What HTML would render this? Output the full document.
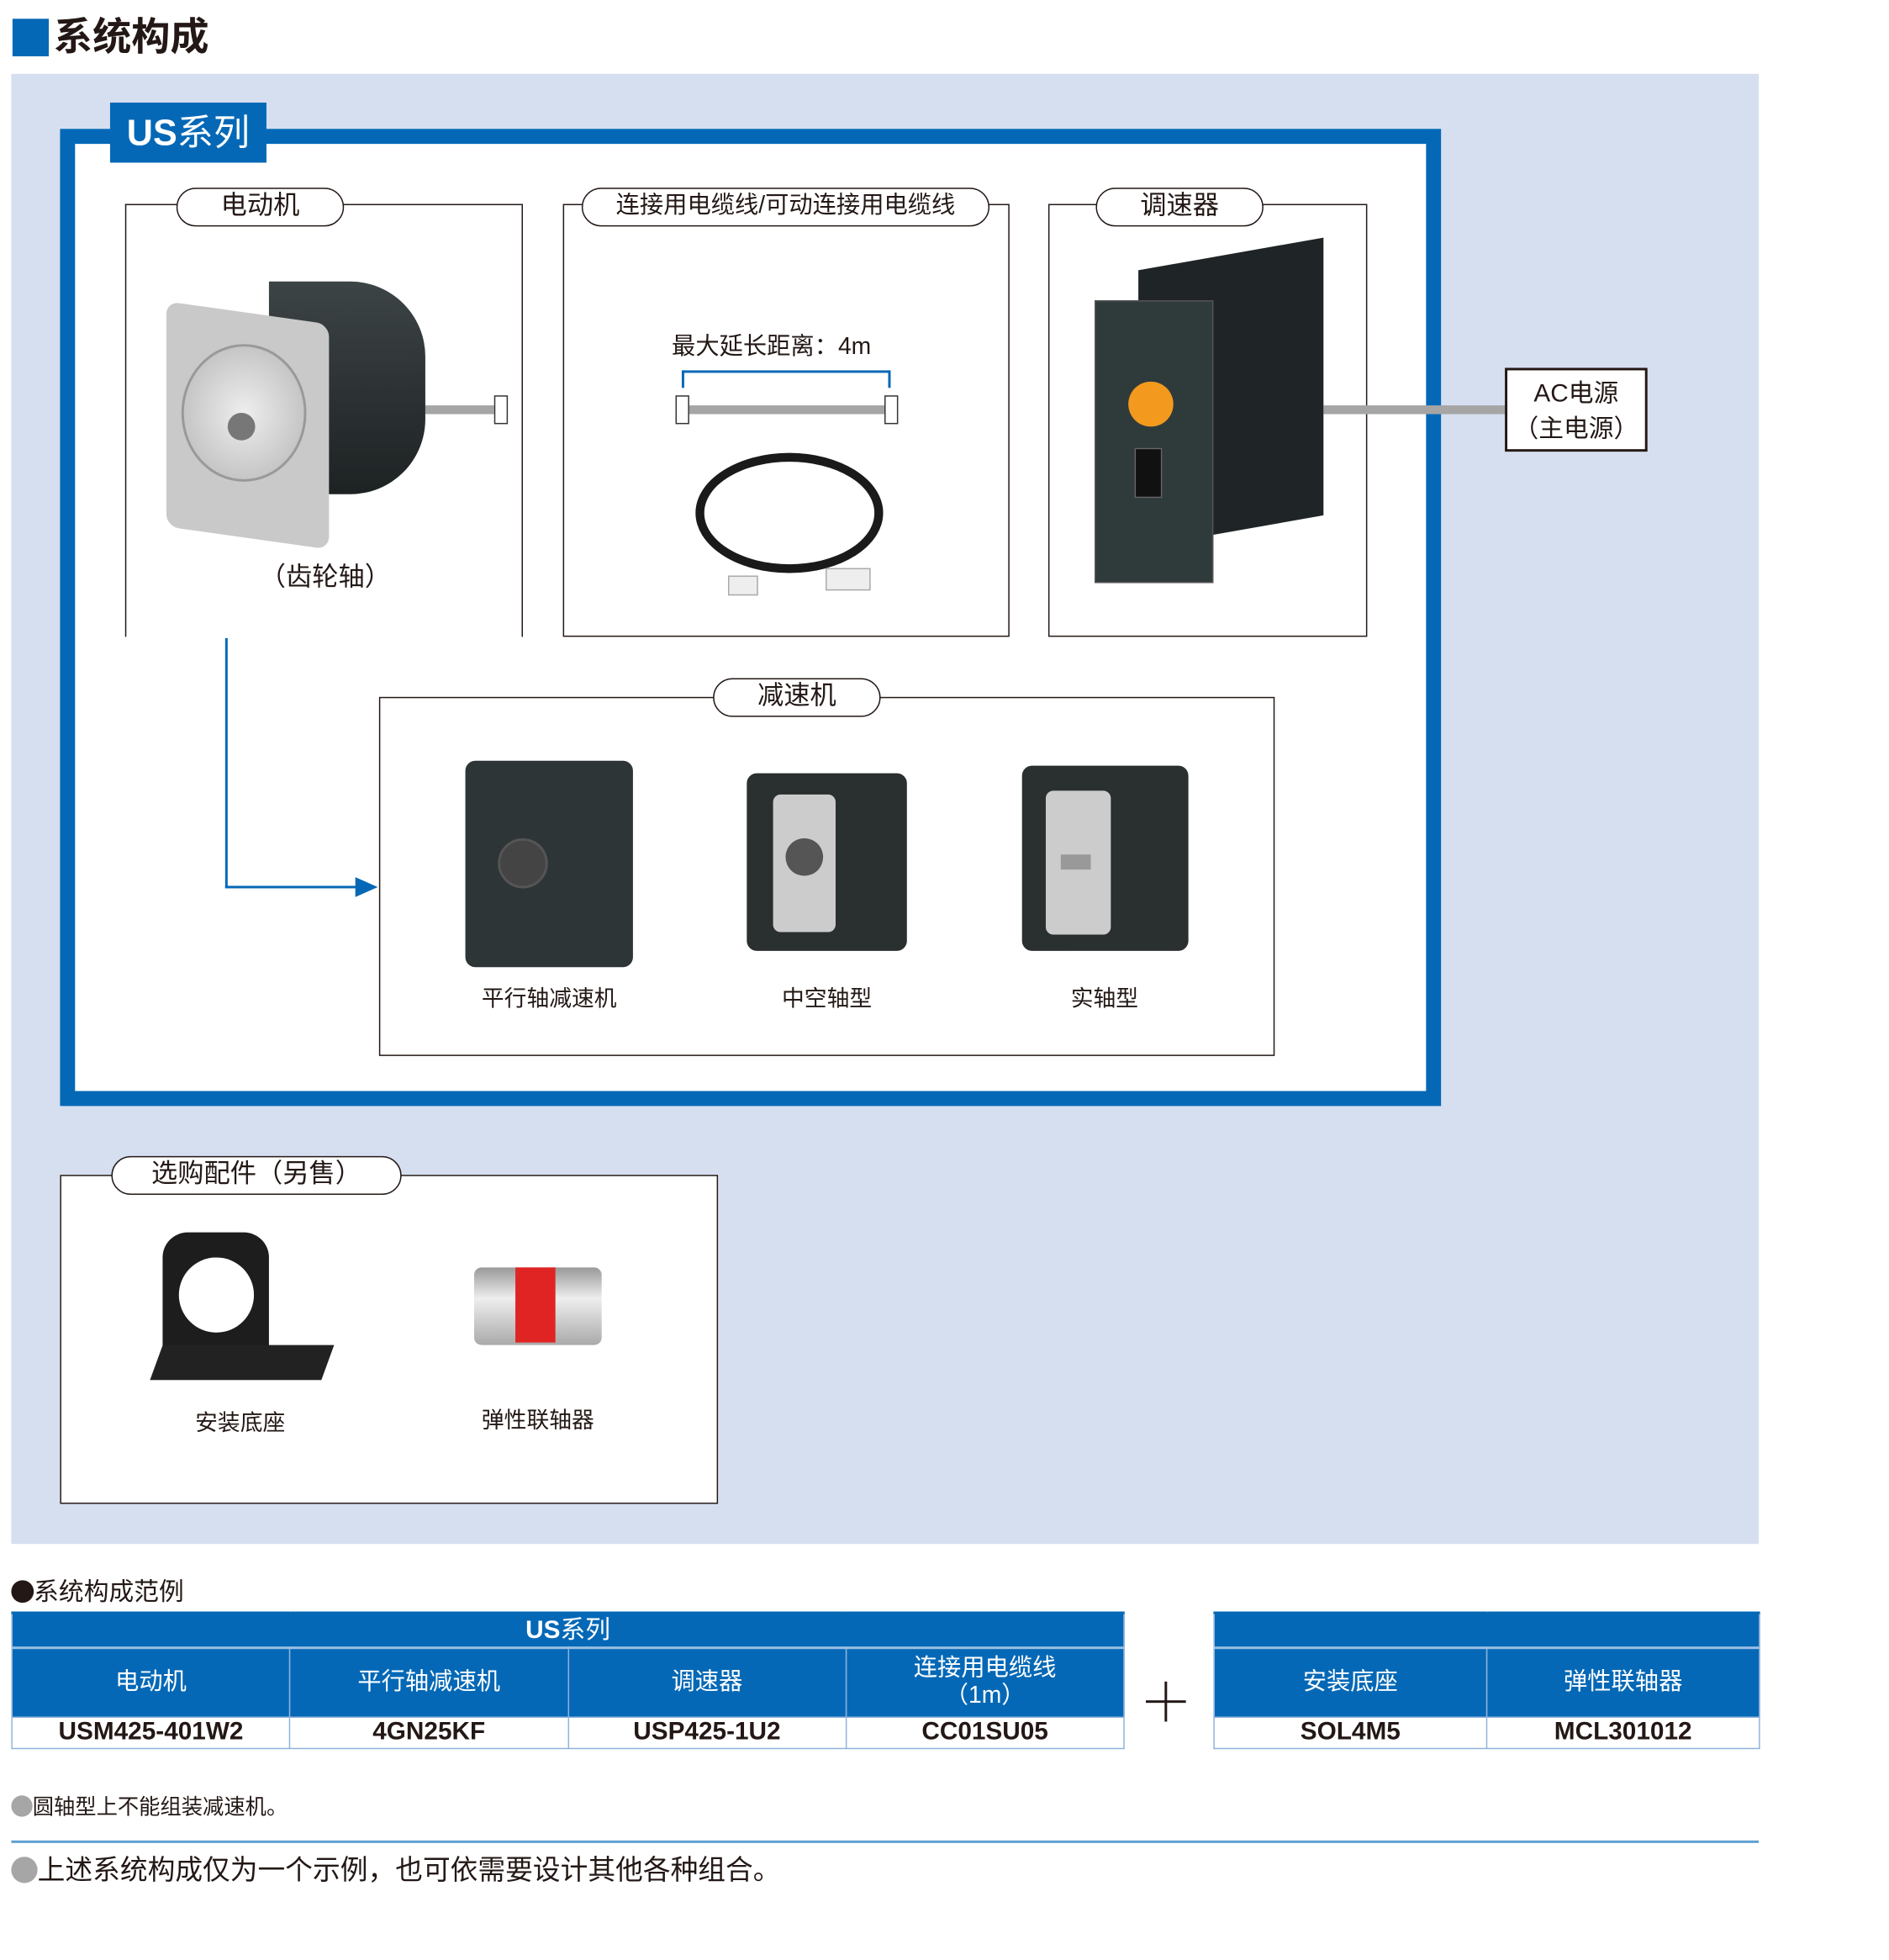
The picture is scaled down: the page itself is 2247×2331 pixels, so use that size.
<!DOCTYPE html>
<html><head><meta charset="utf-8"><style>
*{margin:0;padding:0;box-sizing:border-box}
html,body{width:2247px;height:2331px;overflow:hidden;background:#fff}
#s{position:absolute;left:0;top:0;width:1510px;height:1566px;transform:scale(1.488);transform-origin:0 0;font-family:"Liberation Sans","Noto Sans CJK SC",sans-serif;color:#231815}
.a{position:absolute}
.box{position:absolute;border:1.5px solid #231815;background:#fff}
.pill{position:absolute;border:1.5px solid #231815;border-radius:16px;background:#fff;text-align:center;font-size:21px;line-height:28px}
.lbl{position:absolute;font-size:18px;transform:translateX(-50%);white-space:nowrap}
.blue{background:#0468b6}
td{border:1px solid #8fb3dc;text-align:center;padding:0;line-height:1.15}
</style></head><body><div id="s">
<div class="a blue" style="left:10px;top:15px;width:29px;height:30px"></div>
<div class="a" style="left:43px;top:8px;font-size:31px;font-weight:bold;line-height:44px">系统构成</div>
<div class="a" style="left:9px;top:59px;width:1397px;height:1175px;background:#d6dff0"></div>
<div class="a" style="left:48px;top:103px;width:1104px;height:781px;border:12px solid #0468b6;background:#fff"></div>
<div class="a blue" style="left:88px;top:82px;width:125px;height:48px;color:#fff;font-size:29px;font-weight:bold;line-height:50px;text-align:center">US<span style="font-weight:normal">系列</span></div>

<!-- motor -->
<div class="a" style="left:100px;top:163px;width:318px;height:346px;border:1.5px solid #231815;border-bottom:none"></div>
<div class="pill" style="left:141px;top:150px;width:134px;height:31px">电动机</div>
<div class="a" style="left:340px;top:324px;width:56px;height:7px;background:#a5a5a5"></div>
<div class="a" style="left:395px;top:316px;width:11px;height:23px;border:1.5px solid #333;background:#fff"></div>
<div class="a" style="left:215px;top:225px;width:125px;height:170px;border-radius:0 60px 60px 0;background:linear-gradient(#3d4446,#1d2223)"></div>
<div class="a" style="left:133px;top:250px;width:130px;height:180px;background:#c9c9c9;border-radius:10px;transform:skewY(8deg)"></div>
<div class="a" style="left:145px;top:275px;width:100px;height:110px;border-radius:50%;background:radial-gradient(#eee,#b5b5b5);border:2px solid #999"></div>
<div class="a" style="left:182px;top:330px;width:22px;height:22px;border-radius:50%;background:#777"></div>
<div class="lbl" style="left:260px;top:445px;font-size:21px">（齿轮轴）</div>

<!-- cable -->
<div class="box" style="left:450px;top:163px;width:357px;height:346px"></div>
<div class="pill" style="left:465px;top:150px;width:326px;height:31px;font-size:19px">连接用电缆线/可动连接用电缆线</div>
<div class="a" style="left:537px;top:262px;font-size:19px">最大延长距离：4m</div>
<div class="a" style="left:545px;top:296px;width:167px;height:14px;border:2px solid #0468b6;border-bottom:none"></div>
<div class="a" style="left:548px;top:324px;width:162px;height:7px;background:#a5a5a5"></div>
<div class="a" style="left:540px;top:316px;width:11px;height:23px;border:1.5px solid #333;background:#fff"></div>
<div class="a" style="left:707px;top:316px;width:11px;height:23px;border:1.5px solid #333;background:#fff"></div>
<div class="a" style="left:556px;top:362px;width:150px;height:96px;border:7px solid #1a1a1a;border-radius:50%"></div>
<div class="a" style="left:582px;top:460px;width:24px;height:16px;background:#eee;border:1px solid #aaa"></div>
<div class="a" style="left:660px;top:454px;width:36px;height:18px;background:#eee;border:1px solid #aaa"></div>

<!-- speed -->
<div class="box" style="left:838px;top:163px;width:255px;height:346px"></div>
<div class="pill" style="left:876px;top:150px;width:134px;height:31px">调速器</div>
<div class="a" style="left:1058px;top:324px;width:147px;height:7px;background:#a5a5a5"></div>
<div class="a" style="left:910px;top:216px;width:148px;height:222px;background:#1f2526;transform:skewY(-10deg);transform-origin:0 0"></div>
<div class="a" style="left:875px;top:240px;width:95px;height:226px;background:#2f3a3b;border:1px solid #555"></div>
<div class="a" style="left:902px;top:305px;width:36px;height:36px;border-radius:50%;background:#f39a1e"></div>
<div class="a" style="left:907px;top:358px;width:22px;height:40px;background:#111;border:1px solid #666"></div>
<div class="box" style="left:1203px;top:294px;width:114px;height:67px;border-width:2px;text-align:center;font-size:20px;line-height:28px;padding-top:5px">AC电源<br>（主电源）</div>

<!-- arrow -->
<div class="a" style="left:180px;top:510px;width:2px;height:200px;background:#0468b6"></div>
<div class="a" style="left:180px;top:708px;width:106px;height:2px;background:#0468b6"></div>
<svg class="a" style="left:284px;top:701px" width="18" height="16"><polygon points="0,0 18,8 0,16" fill="#0468b6"/></svg>

<!-- reducer -->
<div class="box" style="left:303px;top:557px;width:716px;height:287px"></div>
<div class="pill" style="left:570px;top:542px;width:134px;height:31px">减速机</div>
<div class="a" style="left:372px;top:608px;width:134px;height:165px;background:#2e3537;border-radius:8px"></div>
<div class="a" style="left:398px;top:670px;width:40px;height:40px;border-radius:50%;background:#444;border:2px solid #555"></div>
<div class="a" style="left:597px;top:618px;width:128px;height:142px;background:#2a2f30;border-radius:8px"></div>
<div class="a" style="left:618px;top:635px;width:50px;height:110px;background:#ccc;border-radius:6px"></div>
<div class="a" style="left:628px;top:670px;width:30px;height:30px;border-radius:50%;background:#555"></div>
<div class="a" style="left:817px;top:612px;width:133px;height:148px;background:#2a2f30;border-radius:8px"></div>
<div class="a" style="left:836px;top:632px;width:52px;height:115px;background:#ccc;border-radius:6px"></div>
<div class="a" style="left:848px;top:683px;width:24px;height:12px;background:#999"></div>
<div class="lbl" style="left:439px;top:784px">平行轴减速机</div>
<div class="lbl" style="left:661px;top:784px">中空轴型</div>
<div class="lbl" style="left:883px;top:784px">实轴型</div>

<!-- optional -->
<div class="box" style="left:48px;top:939px;width:526px;height:263px"></div>
<div class="pill" style="left:89px;top:924px;width:232px;height:31px">选购配件（另售）</div>
<div class="a" style="left:130px;top:985px;width:85px;height:115px;background:#1d1d1d;border-radius:20px 20px 4px 4px"></div>
<div class="a" style="left:143px;top:1005px;width:60px;height:60px;border-radius:50%;background:#fff"></div>
<div class="a" style="left:125px;top:1075px;width:137px;height:28px;background:#222;transform:skewX(-20deg)"></div>
<div class="a" style="left:379px;top:1013px;width:102px;height:62px;background:linear-gradient(#999,#eee 40%,#aaa);border-radius:6px"></div>
<div class="a" style="left:412px;top:1013px;width:32px;height:60px;background:#e02424"></div>
<div class="lbl" style="left:192px;top:1123px">安装底座</div>
<div class="lbl" style="left:430px;top:1121px">弹性联轴器</div>

<div class="a" style="left:9px;top:1256px;font-size:20px"><span style="display:inline-block;width:18px;height:18px;border-radius:50%;background:#231815;vertical-align:-2px"></span>系统构成范例</div>

<table class="a" style="left:9px;top:1288px;width:890px;border-collapse:collapse;border-top:2px solid #0468b6;table-layout:fixed">
<tr class="blue" style="color:#fff"><td colspan="4" style="height:28px;font-size:20px;font-weight:bold;border-bottom:2px solid #9cc0e4">US<span style="font-weight:normal">系列</span></td></tr>
<tr class="blue" style="color:#fff;font-size:19px"><td style="height:55px">电动机</td><td>平行轴减速机</td><td>调速器</td><td>连接用电缆线<br>（1m）</td></tr>
<tr style="font-size:20px;font-weight:bold"><td style="height:25px">USM425-401W2</td><td>4GN25KF</td><td>USP425-1U2</td><td>CC01SU05</td></tr>
</table>
<div class="a" style="left:916px;top:1359px;width:32px;height:2px;background:#231815"></div>
<div class="a" style="left:931px;top:1344px;width:2px;height:32px;background:#231815"></div>
<table class="a" style="left:970px;top:1288px;width:437px;border-collapse:collapse;border-top:2px solid #0468b6;table-layout:fixed">
<tr class="blue"><td colspan="2" style="height:28px;border-bottom:2px solid #9cc0e4"></td></tr>
<tr class="blue" style="color:#fff;font-size:19px"><td style="height:55px">安装底座</td><td>弹性联轴器</td></tr>
<tr style="font-size:20px;font-weight:bold"><td style="height:25px">SOL4M5</td><td>MCL301012</td></tr>
</table>

<div class="a" style="left:9px;top:1430px;font-size:17px"><span style="display:inline-block;width:17px;height:17px;border-radius:50%;background:#a6a6a6;vertical-align:-2px"></span>圆轴型上不能组装减速机。</div>
<div class="a" style="left:9px;top:1471px;width:1397px;height:2px;background:#5ea0d0"></div>
<div class="a" style="left:9px;top:1477px;font-size:22px"><span style="display:inline-block;width:21px;height:21px;border-radius:50%;background:#a6a6a6;vertical-align:-3px"></span>上述系统构成仅为一个示例，也可依需要设计其他各种组合。</div>
</div></body></html>
